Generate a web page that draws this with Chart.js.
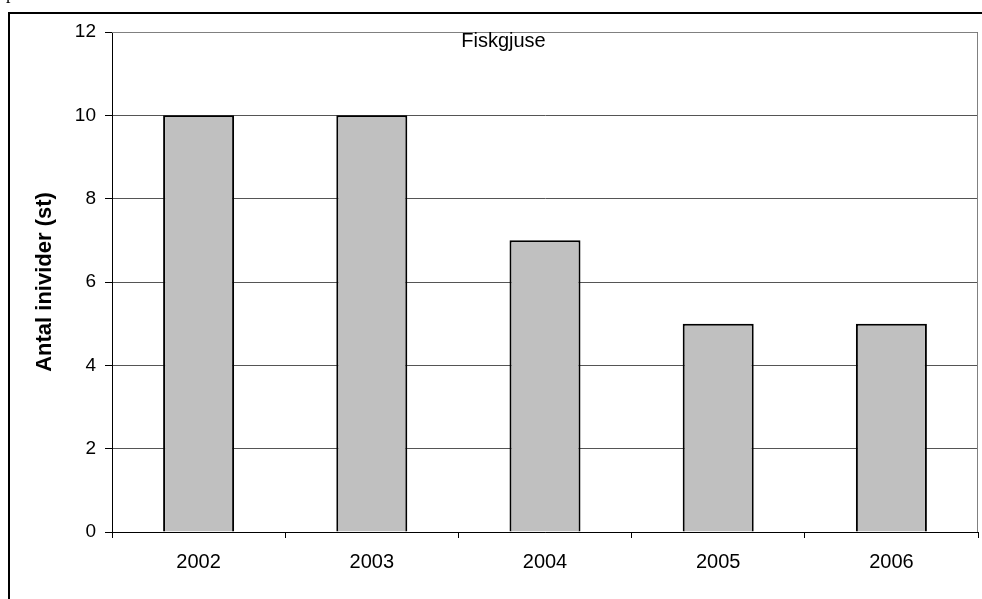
<!DOCTYPE html>
<html>
<head>
<meta charset="utf-8">
<script src="https://cdn.jsdelivr.net/npm/chart.js@4"></script>
<style>
  html, body { margin: 0; padding: 0; background: #fff; overflow: hidden; }
  #wrap { position: relative; width: 982px; height: 599px; }
  #frag { position: absolute; left: 6px; top: -16px; font: 18px "Liberation Serif", serif; line-height: 18px; color: #000; }
</style>
</head>
<body>
<div id="wrap">
  <canvas id="c" width="982" height="599"></canvas>
  <div id="frag">p</div>
</div>
<script>
const categories = ['2002', '2003', '2004', '2005', '2006'];
const values = [10, 10, 7, 5, 5];
const yTicks = [0, 2, 4, 6, 8, 10, 12];
const chartTitle = 'Fiskgjuse';
const yTitle = 'Antal inivider (st)';
const FONT = '"Liberation Sans", Arial, sans-serif';

const framePlugin = {
  id: 'frame',
  beforeDraw(chart) {
    const ctx = chart.ctx;
    ctx.save();
    ctx.fillStyle = '#fff';
    ctx.fillRect(0, 0, chart.width, chart.height);
    ctx.strokeStyle = '#000';
    ctx.lineWidth = 2;
    ctx.beginPath();
    ctx.moveTo(9, chart.height + 2);
    ctx.lineTo(9, 13);
    ctx.lineTo(chart.width + 2, 13);
    ctx.stroke();
    ctx.restore();
  },
  afterDatasetsDraw(chart) {
    const ctx = chart.ctx;
    const a = chart.chartArea;
    ctx.save();
    ctx.strokeStyle = '#808080';
    ctx.lineWidth = 1;
    ctx.beginPath();
    ctx.moveTo(a.left, a.top + 0.5);
    ctx.lineTo(a.right - 0.5, a.top + 0.5);
    ctx.lineTo(a.right - 0.5, a.bottom);
    ctx.stroke();
    ctx.fillStyle = '#000';
    ctx.font = '20px ' + FONT;
    ctx.textAlign = 'center';
    ctx.textBaseline = 'alphabetic';
    ctx.fillText(chartTitle, 503.5, a.top + 15);
    ctx.restore();
  }
};

new Chart(document.getElementById('c'), {
  type: 'bar',
  data: {
    labels: categories,
    datasets: [{
      data: values,
      backgroundColor: '#c0c0c0',
      borderColor: '#000',
      borderWidth: 2,
      categoryPercentage: 1.0,
      barPercentage: 0.41
    }]
  },
  options: {
    responsive: false,
    animation: false,
    devicePixelRatio: 1,
    layout: { padding: { top: 32, right: 4, left: 0, bottom: 0 } },
    plugins: { legend: { display: false }, tooltip: { enabled: false }, title: { display: false } },
    scales: {
      x: {
        offset: true,
        grid: { offset: true, drawOnChartArea: false, drawTicks: true, tickLength: 6, color: '#000', tickColor: '#000' },
        border: { color: '#000', width: 1 },
        ticks: { color: '#000', font: { family: FONT, size: 20 }, padding: 12, maxRotation: 0 },
        afterFit(s) { s.height = 67; }
      },
      y: {
        min: 0, max: 12,
        afterBuildTicks(s) { s.ticks = yTicks.map(v => ({ value: v })); },
        grid: { color: '#555', tickColor: '#000', tickLength: 7, lineWidth: 1 },
        border: { color: '#000', width: 1 },
        ticks: { color: '#000', font: { family: FONT, size: 19 }, padding: 9 },
        title: {
          display: true, text: yTitle, color: '#000',
          font: { family: FONT, size: 22, weight: 'bold' },
          padding: { top: 32, bottom: 0 }
        },
        afterFit(s) { s.width = 112; }
      }
    }
  },
  plugins: [framePlugin]
});
</script>
</body>
</html>
